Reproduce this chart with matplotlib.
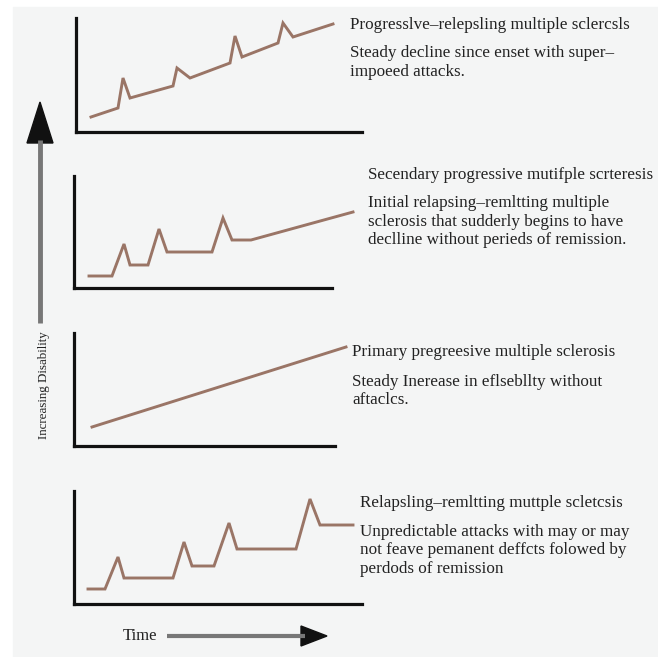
import matplotlib
matplotlib.use("Agg")
import matplotlib.pyplot as plt
from matplotlib.patches import Rectangle, FancyArrow

# panel series: time vs disability (arbitrary units)
pr_time = [15, 42, 47, 54, 97, 101, 114, 154, 159, 166, 202, 207, 217, 257]
pr_dis = [15, 24, 54, 34, 46, 64, 54, 69, 96, 75, 89, 109, 95, 108]

sp_time = [15, 38, 50, 56, 74, 85, 93, 138, 149, 158, 177, 279]
sp_dis = [12, 12, 44, 23, 23, 59, 36, 36, 70, 48, 48, 76]

pp_time = [18, 272]
pp_dis = [19, 99]

rr_time = [14, 31, 44, 50, 99, 110, 118, 140, 155, 163, 222, 236, 246, 279]
rr_dis = [15, 15, 47, 26, 26, 62, 38, 38, 81, 55, 55, 105, 79, 79]

titles = [
    "Progresslve\u2013relepsling multiple sclercsls",
    "Secendary progressive mutifple scrteresis",
    "Primary pregreesive multiple sclerosis",
    "Relapsling\u2013remltting muttple scletcsis",
]
descs = [
    ["Steady decline since enset with super\u2013", "impoeed attacks."],
    ["Initial relapsing\u2013remltting multiple",
     "sclerosis that sudderly begins to have",
     "declline without perieds of remission."],
    ["Steady Inerease in eflsebllty without", "aftaclcs."],
    ["Unpredictable attacks with may or may",
     "not feave pemanent deffcts folowed by",
     "perdods of remission"],
]

W, H = 658, 657
LINE = "#9a7566"
TXT = "#222222"
plt.rcParams["font.family"] = ["Liberation Serif", "DejaVu Serif"]

fig = plt.figure(figsize=(W / 100, H / 100), dpi=100)
fig.patch.set_facecolor("white")

# background axes in pixel coordinates
bg = fig.add_axes([0, 0, 1, 1])
bg.set_xlim(0, W)
bg.set_ylim(H, 0)
bg.axis("off")
bg.add_patch(Rectangle((13, 7), W - 13, H - 7, color="#f4f5f5", zorder=0))


def px_axes(x0, y0, w, h):
    # x0, y0 = origin (bottom-left) in pixels from top-left
    return fig.add_axes([x0 / W, 1 - y0 / H, w / W, h / H])


panels = [
    (76, 132, 286, 114, pr_time, pr_dis),
    (74, 288, 258, 112, sp_time, sp_dis),
    (74, 446, 261, 113, pp_time, pp_dis),
    (74, 604, 288, 113, rr_time, rr_dis),
]
for x0, y0, w, h, t, d in panels:
    ax = px_axes(x0, y0, w, h)
    ax.patch.set_alpha(0)
    ax.set_xlim(0, w)
    ax.set_ylim(0, h)
    for s in ["top", "right"]:
        ax.spines[s].set_visible(False)
    for s in ["left", "bottom"]:
        ax.spines[s].set_linewidth(2.3)
        ax.spines[s].set_color("#111111")
    ax.set_xticks([])
    ax.set_yticks([])
    ax.plot(t, d, color=LINE, lw=2.1, solid_joinstyle="miter", clip_on=False)

# text blocks
text_pos = [(350, 25, 53), (368, 175, 203), (352, 352, 382), (360, 503, 532)]
for (x, ty, dy), title, lines in zip(text_pos, titles, descs):
    bg.text(x, ty, title, fontsize=12.3, color=TXT, va="center", ha="left")
    for i, ln in enumerate(lines):
        bg.text(x, dy + i * 18.5, ln, fontsize=12.3, color=TXT, va="center", ha="left")

# vertical disability arrow
bg.plot([40, 40], [323, 140], color="#777777", lw=3.5, solid_capstyle="butt")
bg.add_patch(FancyArrow(40, 144, 0, -1, width=0, head_width=26, head_length=41,
                        length_includes_head=False, color="#111111"))
bg.text(44, 385, "Increasing Disability", rotation=90, fontsize=9.4, color=TXT,
        ha="center", va="center")

# time arrow
bg.text(140, 636, "Time", fontsize=12, color=TXT, ha="center", va="center")
bg.plot([167, 305], [636, 636], color="#777777", lw=3.0, solid_capstyle="butt")
bg.add_patch(FancyArrow(300, 636, 1, 0, width=0, head_width=20, head_length=26,
                        length_includes_head=False, color="#111111"))

fig.savefig("out.png", dpi=100, facecolor=fig.get_facecolor())
